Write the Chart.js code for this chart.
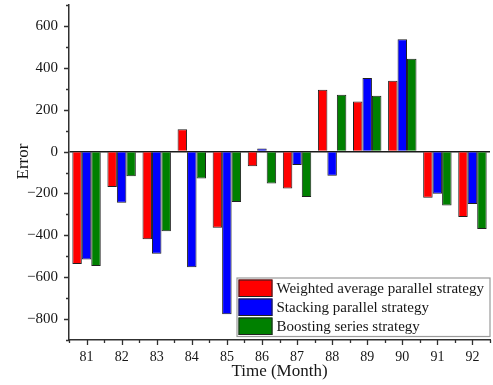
<!DOCTYPE html>
<html>
<head>
<meta charset="utf-8">
<script src="https://cdn.jsdelivr.net/npm/chart.js@4.4.1/dist/chart.umd.min.js"></script>
<style>
  html, body { margin: 0; padding: 0; background: #fff; }
  #wrap { width: 493px; height: 385px; }
</style>
</head>
<body>
<div id="wrap"><canvas id="c" width="493" height="385"></canvas></div>
<script>
// Monthly forecasting error of three ensemble strategies
const months = ['81', '82', '83', '84', '85', '86', '87', '88', '89', '90', '91', '92'];
const weightedAvg = [-537, -169, -419, 107, -364, -70, -177, 295, 239, 338, -220, -312];
const stacking    = [-515, -244, -488, -552, -777, 15, -64, -116, 351, 537, -201, -250];
const boosting    = [-547, -118, -381, -129, -241, -153, -217, 271, 266, 443, -258, -370];
const yTicks = [-800, -600, -400, -200, 0, 200, 400, 600];
const yMinorStep = 100;
const seriesNames = ['Weighted average parallel strategy', 'Stacking parallel strategy', 'Boosting series strategy'];
const seriesColors = ['#ff0000', '#0000ff', '#008000'];
const xTitle = 'Time (Month)';
const yTitle = 'Error';

const SERIF = '"Liberation Serif", "Times New Roman", serif';
const INK = '#161616';
const AXIS = '#303030';

// Tick marks (major + minor), axis titles and the in-plot legend box
const decorations = {
  id: 'decorations',
  afterDraw(chart) {
    const { ctx, chartArea: a, scales: { x, y } } = chart;
    ctx.save();
    ctx.strokeStyle = AXIS;
    ctx.lineWidth = 1.3;
    ctx.beginPath();
    // y ticks: majors at labelled values, minors every 100
    for (let v = y.min; v <= y.max; v += yMinorStep) {
      const py = Math.round(y.getPixelForValue(v)) + 0.5;
      const len = yTicks.includes(v) ? 5 : 3;
      ctx.moveTo(a.left, py);
      ctx.lineTo(a.left - len, py);
    }
    // x ticks: majors at months, minors halfway between
    const n = months.length;
    for (let i = 0; i < n; i++) {
      const px = Math.round(x.getPixelForTick(i)) + 0.5;
      ctx.moveTo(px, a.bottom);
      ctx.lineTo(px, a.bottom + 5);
    }
    const step = x.getPixelForTick(1) - x.getPixelForTick(0);
    for (let i = 0; i <= n; i++) {
      const px = Math.round(x.getPixelForTick(0) - step / 2 + i * step) + 0.5;
      ctx.moveTo(px, a.bottom);
      ctx.lineTo(px, a.bottom + 3);
    }
    ctx.stroke();

    // axis titles
    ctx.fillStyle = INK;
    ctx.font = '17px ' + SERIF;
    ctx.textAlign = 'center';
    ctx.textBaseline = 'alphabetic';
    ctx.fillText(xTitle, (a.left + a.right) / 2, 376);
    ctx.save();
    ctx.translate(28, 161.5);
    ctx.rotate(-Math.PI / 2);
    ctx.fillText(yTitle, 0, 0);
    ctx.restore();

    // legend box anchored to the lower right corner of the plot
    const bw = 253, bh = 58.5;
    const bx = a.right - bw - 0.5, by = a.bottom - bh - 4;
    ctx.fillStyle = '#fff';
    ctx.fillRect(bx, by, bw, bh);
    ctx.strokeStyle = '#9a9a9a';
    ctx.lineWidth = 1.2;
    ctx.strokeRect(bx + 0.5, by + 0.5, bw, bh);
    ctx.font = '15px ' + SERIF;
    ctx.textAlign = 'left';
    ctx.textBaseline = 'middle';
    chart.data.datasets.forEach((ds, i) => {
      const sy = by + 2 + i * 19;
      ctx.fillStyle = ds.backgroundColor;
      ctx.fillRect(bx + 2, sy, 34, 17.5);
      ctx.strokeStyle = '#222';
      ctx.lineWidth = 1;
      ctx.strokeRect(bx + 2.5, sy + 0.5, 33, 16.5);
      ctx.fillStyle = INK;
      ctx.fillText(ds.label, bx + 40, sy + 9.5);
    });
    ctx.restore();
  }
};

const seriesData = [weightedAvg, stacking, boosting];

new Chart(document.getElementById('c'), {
  type: 'bar',
  data: {
    labels: months,
    datasets: seriesData.map((vals, i) => ({
      label: seriesNames[i],
      data: vals,
      backgroundColor: seriesColors[i],
      borderColor: '#202020',
      borderWidth: 1,
      barPercentage: 1.0,
      categoryPercentage: 0.81
    }))
  },
  options: {
    responsive: false,
    animation: false,
    devicePixelRatio: 1,
    layout: { padding: { top: 5, right: 3, left: 0, bottom: 0 } },
    plugins: {
      legend: { display: false },
      tooltip: { enabled: false }
    },
    scales: {
      x: {
        type: 'category',
        offset: true,
        grid: { display: false, drawTicks: false },
        border: { display: true, color: AXIS, width: 1.5 },
        ticks: {
          color: INK,
          font: { family: SERIF, size: 14 },
          padding: 9,
          maxRotation: 0,
          autoSkip: false
        },
        afterFit: (s) => { s.height = 45; s.paddingLeft = 0; s.paddingRight = 0; }
      },
      y: {
        min: -900,
        max: 700,
        afterBuildTicks: (s) => { s.ticks = yTicks.map(v => ({ value: v })); },
        grid: {
          drawTicks: false,
          color: (c) => (c.tick && c.tick.value === 0 ? '#1a1a1a' : 'rgba(0,0,0,0)'),
          lineWidth: 1.4
        },
        border: { display: true, color: AXIS, width: 1.5 },
        ticks: {
          color: INK,
          font: { family: SERIF, size: 15 },
          padding: 11,
          callback: (v) => (v < 0 ? '\u2212' + Math.abs(v) : String(v))
        },
        afterFit: (s) => { s.width = 69; s.paddingTop = 0; s.paddingBottom = 0; }
      }
    }
  },
  plugins: [decorations]
});
</script>
</body>
</html>
